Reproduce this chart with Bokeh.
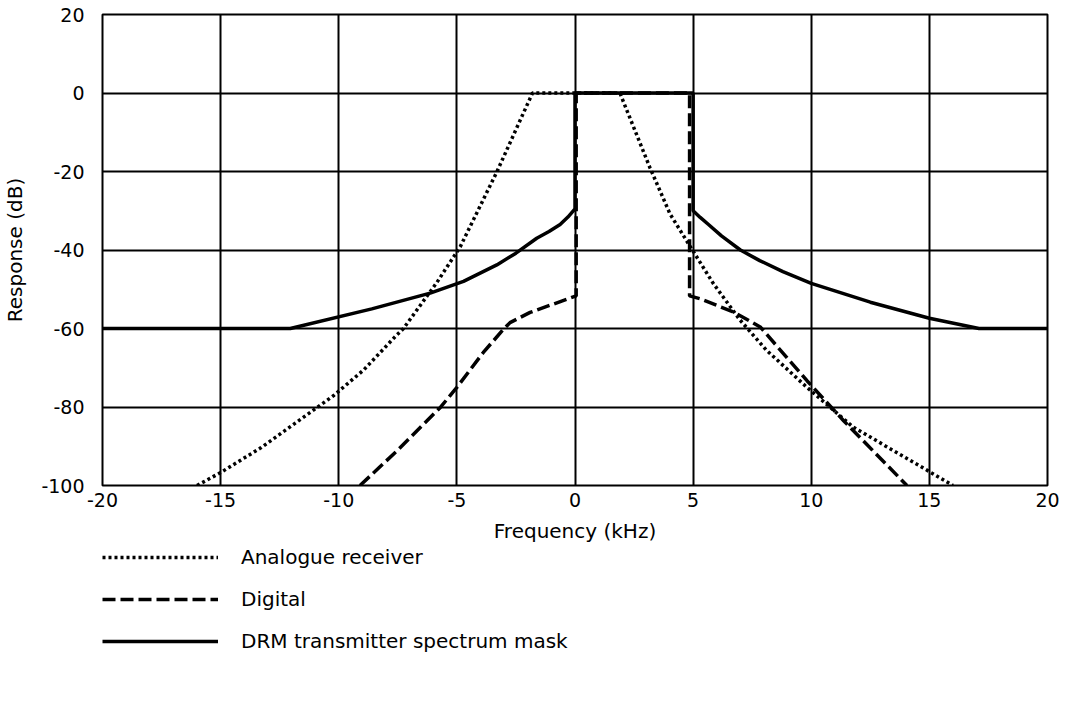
from bokeh.plotting import figure
from bokeh.layouts import column
from bokeh.models import Range1d, FixedTicker, Legend, LegendItem
from bokeh.embed import file_html
from bokeh.resources import INLINE

# ---- data ----
x_ticks = [-20, -15, -10, -5, 0, 5, 10, 15, 20]
x_tick_labels = ["-20", "-15", "-10", "-5", "0", "5", "10", "15", "20"]
y_ticks = [-100, -80, -60, -40, -20, 0, 20]
y_tick_labels = ["-100", "-80", "-60", "-40", "-20", "0", "20"]

analogue_f = [-16.0, -15.0, -13.3, -10.2, -8.95, -7.6, -7.26, -5.85, -4.86, -3.3, -1.8,
              1.9, 3.17, 4.02, 4.72, 5.85, 6.98, 8.1, 9.8, 11.77, 14.87, 16.0]
analogue_db = [-100, -96.7, -90.4, -77, -70.6, -62, -60, -48.3, -39.2, -20, 0,
               0, -19, -30.8, -37.6, -48.5, -57.8, -65.5, -74.9, -85.1, -96, -100]

digital_f = [-9.1, -7.54, -5.7, -5.0, -3.88, -3.03, -2.75, -1.9, 0.05, 0.05,
             4.85, 4.85, 5.28, 6.71, 7.84, 9.82, 11.37, 14.05]
digital_db = [-100, -91.2, -80.1, -75, -66.1, -60.2, -58.5, -55.9, -51.7, 0,
              0, -51.7, -52.4, -55.8, -59.6, -73.3, -83.5, -100]

mask_f = [-20, -12.05, -8.6, -6.13, -4.72, -3.31, -2.5, -1.62, -1.1, -0.63, -0.3, 0, 0,
          5, 5, 5.3, 5.65, 6.2, 7.0, 7.82, 8.8, 10, 12.5, 15, 17.1, 20]
mask_db = [-60, -60, -55, -51, -48, -43.8, -40.8, -37, -35.3, -33.5, -31.6, -29.5, 0,
           0, -30, -31.7, -33.5, -36.4, -40, -42.7, -45.5, -48.5, -53.3, -57.4, -60, -60]

series_names = ["Analogue receiver", "Digital", "DRM transmitter spectrum mask"]

FONT = "DejaVu Sans"
STYLES = [dict(line_dash="3 3"), dict(line_dash="13 5"), dict()]
SERIES = [(analogue_f, analogue_db), (digital_f, digital_db), (mask_f, mask_db)]

p = figure(width=1069, height=545, output_backend="svg", toolbar_location=None,
           x_range=Range1d(-20, 20), y_range=Range1d(-100, 20),
           min_border_left=101, min_border_right=22, min_border_top=14,
           min_border_bottom=60)

p.outline_line_color = "black"
p.outline_line_width = 2

for ax in (p.xaxis[0], p.yaxis[0]):
    ax.axis_line_color = None
    ax.major_tick_line_color = None
    ax.minor_tick_line_color = None
    ax.major_label_text_font = FONT
    ax.major_label_text_font_size = "19px"
    ax.major_label_text_color = "black"
    ax.axis_label_text_font = FONT
    ax.axis_label_text_font_size = "20px"
    ax.axis_label_text_font_style = "normal"
    ax.axis_label_text_color = "black"

p.xaxis.ticker = FixedTicker(ticks=x_ticks)
p.xaxis.major_label_overrides = {t: l for t, l in zip(x_ticks, x_tick_labels)}
p.yaxis.ticker = FixedTicker(ticks=y_ticks)
p.yaxis.major_label_overrides = {t: l for t, l in zip(y_ticks, y_tick_labels)}
p.xaxis.axis_label = "Frequency (kHz)"
p.yaxis.axis_label = "Response (dB)"
p.xaxis.major_label_standoff = 1
p.xaxis.axis_label_standoff = 9
p.yaxis.major_label_standoff = 12
p.yaxis.axis_label_standoff = 11

p.xgrid.ticker = FixedTicker(ticks=x_ticks)
p.ygrid.ticker = FixedTicker(ticks=y_ticks)
for g in (p.xgrid[0], p.ygrid[0]):
    g.grid_line_color = "black"
    g.grid_line_width = 2
    g.grid_line_alpha = 1.0

for (fx, fy), st in zip(SERIES, STYLES):
    p.line(fx, fy, line_color="black", line_width=3.5, **st)

# legend strip underneath the chart; its renderers are hidden and only
# lend their line styles to the legend samples
p2 = figure(width=1069, height=159, output_backend="svg", toolbar_location=None,
            x_range=Range1d(-20, 20), y_range=Range1d(-100, 20),
            min_border=0, min_border_left=101, min_border_right=22,
            x_axis_type=None, y_axis_type=None)
p2.outline_line_color = None
p2.xgrid.visible = False
p2.ygrid.visible = False
items = []
for name, (fx, fy), st in zip(series_names, SERIES, STYLES):
    r = p2.line(fx, fy, line_color="black", line_width=3.5, visible=False, **st)
    items.append(LegendItem(label=name, renderers=[r]))

legend = Legend(items=items, location="top_left", orientation="vertical",
                glyph_width=116, glyph_height=22, label_height=22,
                label_standoff=23, spacing=18, padding=0, margin=0,
                border_line_alpha=0, background_fill_alpha=0,
                inactive_fill_alpha=0,
                label_text_font=FONT, label_text_font_size="20px",
                label_text_color="black")
p2.add_layout(legend, "center")

open("out.html", "w").write(file_html(column(p, p2), INLINE))
